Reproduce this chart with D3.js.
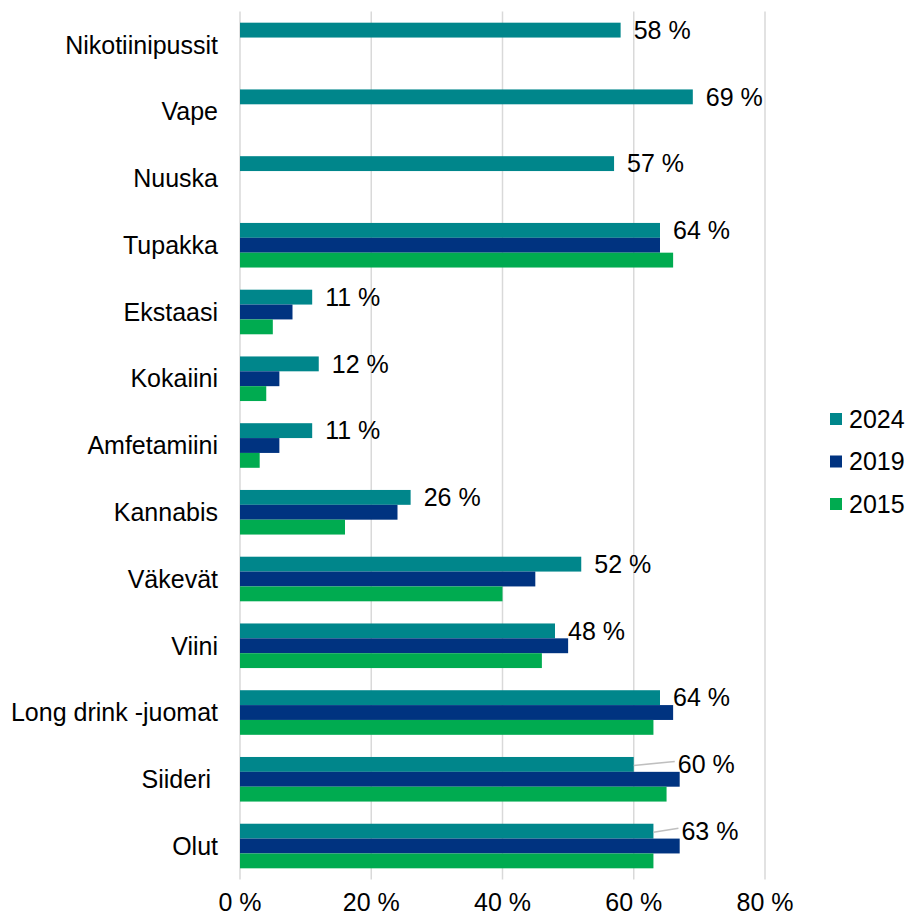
<!DOCTYPE html>
<html>
<head>
<meta charset="utf-8">
<script src="https://cdn.jsdelivr.net/npm/d3@7"></script>
<style>
  html, body { margin: 0; padding: 0; background: #fff; }
  svg { display: block; font-family: "Liberation Sans", Arial, sans-serif; }
</style>
</head>
<body>
<svg id="chart" width="908" height="917"></svg>
<script>
// ---- Data ----
const categories = ["Nikotiinipussit", "Vape", "Nuuska", "Tupakka", "Ekstaasi", "Kokaiini",
  "Amfetamiini", "Kannabis", "Väkevät", "Viini", "Long drink -juomat", "Siideri ", "Olut"];
const seriesNames = ["2024", "2019", "2015"];
const values2024 = [58, 69, 57, 64, 11, 12, 11, 26, 52, 48, 64, 60, 63];
const values2019 = [null, null, null, 64, 8, 6, 6, 24, 45, 50, 66, 67, 67];
const values2015 = [null, null, null, 66, 5, 4, 3, 16, 40, 46, 63, 65, 63];
const xTicks = [0, 20, 40, 60, 80];
const xTickLabels = ["0 %", "20 %", "40 %", "60 %", "80 %"];

// ---- Styling / layout ----
const colors = { "2024": "#00868B", "2019": "#003380", "2015": "#00AB50" };
const fontSize = 25;
const labelNudge = { "Siideri ": 44, "Olut": 28 };   // labels moved right, with leader lines
const defaultLabelGap = 13;

const svg = d3.select("#chart");
const seriesValues = { "2024": values2024, "2019": values2019, "2015": values2015 };

const x = d3.scaleLinear().domain([0, 80]).range([240, 765]);
const y0 = d3.scaleBand().domain(categories).range([11.6, 879.4]).paddingInner(0.332).paddingOuter(0.166);
const y1 = d3.scaleBand().domain(seriesNames).range([0, y0.bandwidth()]);

// gridlines
svg.append("g").selectAll("line").data(xTicks).join("line")
  .attr("x1", d => x(d)).attr("x2", d => x(d))
  .attr("y1", 11.6).attr("y2", 879.4)
  .attr("stroke", "#d9d9d9").attr("stroke-width", 1.5);

// x tick labels
svg.append("g").selectAll("text").data(xTicks).join("text")
  .attr("x", d => x(d)).attr("y", 911)
  .attr("text-anchor", "middle")
  .attr("font-size", fontSize).attr("fill", "#000")
  .text((d, i) => xTickLabels[i]);

// bars
const rows = categories.map((c, i) => ({ cat: c, i }));
const groups = svg.append("g").selectAll("g").data(rows).join("g")
  .attr("transform", d => `translate(0,${y0(d.cat)})`);

groups.selectAll("rect")
  .data(d => seriesNames.map(s => ({ s, v: seriesValues[s][d.i] })).filter(e => e.v != null))
  .join("rect")
  .attr("x", x(0))
  .attr("y", e => y1(e.s))
  .attr("width", e => x(e.v) - x(0))
  .attr("height", y1.bandwidth())
  .attr("fill", e => colors[e.s]);

// category labels
svg.append("g").selectAll("text").data(rows).join("text")
  .attr("x", 218)
  .attr("y", d => y0(d.cat) + y0.bandwidth() / 2)
  .attr("dy", "0.35em")
  .attr("text-anchor", "end")
  .attr("font-size", fontSize).attr("fill", "#000")
  .style("white-space", "pre")
  .text(d => d.cat);

// data labels for 2024
const labels = svg.append("g");
rows.forEach(d => {
  const v = values2024[d.i];
  const cy = y0(d.cat) + y1("2024") + y1.bandwidth() / 2;
  const nudge = labelNudge[d.cat];
  const tx = x(v) + (nudge != null ? nudge : defaultLabelGap);
  if (nudge != null) {
    labels.append("line")
      .attr("x1", x(v)).attr("y1", cy + 1)
      .attr("x2", tx - 3).attr("y2", cy - 3)
      .attr("stroke", "#bfbfbf").attr("stroke-width", 1.5);
  }
  labels.append("text")
    .attr("x", tx).attr("y", cy)
    .attr("dy", "0.35em")
    .attr("font-size", fontSize).attr("fill", "#000")
    .text(v + " %");
});

// legend
const legend = svg.append("g").selectAll("g").data(seriesNames).join("g")
  .attr("transform", (d, i) => `translate(830,${419 + i * 42.5})`);
legend.append("rect").attr("x", 0).attr("y", -6).attr("width", 12).attr("height", 12)
  .attr("fill", d => colors[d]);
legend.append("text").attr("x", 19).attr("y", 0).attr("dy", "0.35em")
  .attr("font-size", fontSize).attr("fill", "#000").text(d => d);
</script>
</body>
</html>
